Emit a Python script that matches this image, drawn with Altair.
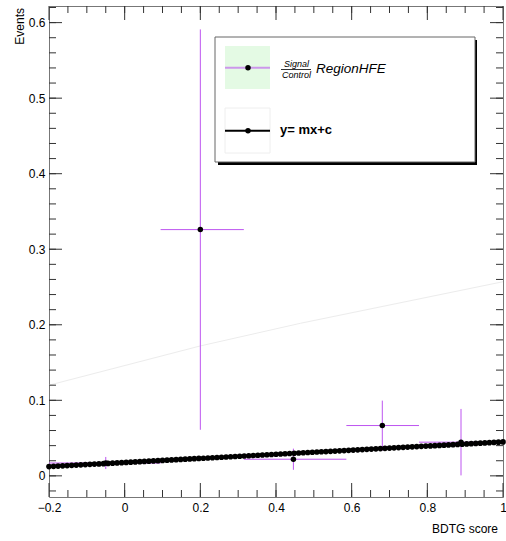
import altair as alt
import numpy as np
import pandas as pd

# Signal/Control ratio per BDTG bin
bin_center = [-0.05, 0.20, 0.446, 0.681, 0.889]
bin_low = [-0.20, 0.095, 0.315, 0.586, 0.778]
bin_high = [0.095, 0.315, 0.586, 0.778, 1.00]
ratio = [0.017, 0.326, 0.022, 0.0666, 0.0446]
ratio_err = [0.008, 0.265, 0.014, 0.033, 0.044]

# straight-line fit y = m*x + c
slope_m = 0.0272
intercept_c = 0.0177

# faint upper band of the fit
band_x = [-0.2, 0.2, 0.465, 1.0]
band_y = [0.120, 0.172, 0.202, 0.257]

x_ticks = [-0.2, 0.0, 0.2, 0.4, 0.6, 0.8, 1.0]
y_ticks = [0.0, 0.1, 0.2, 0.3, 0.4, 0.5, 0.6]

W, H = 454, 491
FONT = "Liberation Sans"
MAGENTA = "#bd55f0"

xs = alt.Scale(domain=[-0.2, 1.0], nice=False, zero=False)
ys = alt.Scale(domain=[-0.028, 0.622], nice=False, zero=False)

pts = pd.DataFrame({
    "x": bin_center, "xlo": bin_low, "xhi": bin_high, "y": ratio,
    "ylo": [r - e for r, e in zip(ratio, ratio_err)],
    "yhi": [r + e for r, e in zip(ratio, ratio_err)],
})
band = pd.DataFrame({"x": band_x, "y": band_y})
one = pd.DataFrame({"k": [0]})

X = alt.X("x:Q", scale=xs, axis=alt.Axis(values=x_ticks, format="~g", ticks=False, domain=False,
                                          grid=False, labelFontSize=12, labelFont=FONT,
                                          labelColor="#000", labelPadding=5, labelFlush=False,
                                          labelOverlap=False, title=None))
Y = alt.Y("y:Q", scale=ys, axis=alt.Axis(values=y_ticks, format="~g", ticks=False, domain=False,
                                          grid=False, labelFontSize=12, labelFont=FONT,
                                          labelColor="#000", labelPadding=4, labelFlush=False,
                                          labelOverlap=False, title=None))

band_line = alt.Chart(band).mark_line(color="#ececec", strokeWidth=1).encode(x=X, y=Y)

xerr = alt.Chart(pts).mark_rule(color=MAGENTA, strokeWidth=1).encode(
    x=alt.X("xlo:Q", scale=xs), x2="xhi:Q", y=alt.Y("y:Q", scale=ys))
yerr = alt.Chart(pts).mark_rule(color=MAGENTA, strokeWidth=1).encode(
    x=alt.X("x:Q", scale=xs), y=alt.Y("ylo:Q", scale=ys), y2="yhi:Q")
dots = alt.Chart(pts).mark_circle(color="black", size=30, opacity=1).encode(
    x=alt.X("x:Q", scale=xs), y=alt.Y("y:Q", scale=ys))

fit_base = alt.Chart(alt.sequence(-0.2, 1.0001, 0.012, as_="x")).transform_calculate(
    y=f"{slope_m} * datum.x + {intercept_c}")
fit_line = fit_base.mark_line(color="black", strokeWidth=2).encode(
    x=alt.X("x:Q", scale=xs), y=alt.Y("y:Q", scale=ys))
fit_dots = fit_base.mark_circle(color="black", size=32, opacity=1).encode(
    x=alt.X("x:Q", scale=xs), y=alt.Y("y:Q", scale=ys))

# inward-pointing ticks on all four sides of the frame
TICK = "#333"
ymaj = pd.DataFrame({"v": y_ticks})
ymin = pd.DataFrame({"v": [round(v, 3) for v in np.arange(-0.02, 0.621, 0.02)]})
xmaj = pd.DataFrame({"v": x_ticks})
xmin = pd.DataFrame({"v": [round(v, 3) for v in np.arange(-0.15, 1.0, 0.05)]})


def ytick(df, length):
    left = alt.Chart(df).mark_rule(color=TICK, strokeWidth=1).encode(
        y=alt.Y("v:Q", scale=ys), x=alt.value(0), x2=alt.value(length))
    right = alt.Chart(df).mark_rule(color=TICK, strokeWidth=1).encode(
        y=alt.Y("v:Q", scale=ys), x=alt.value(W - length), x2=alt.value(W))
    return left + right


def xtick(df, length):
    bottom = alt.Chart(df).mark_rule(color=TICK, strokeWidth=1).encode(
        x=alt.X("v:Q", scale=xs), y=alt.value(H - length), y2=alt.value(H))
    top = alt.Chart(df).mark_rule(color=TICK, strokeWidth=1).encode(
        x=alt.X("v:Q", scale=xs), y=alt.value(0), y2=alt.value(length))
    return bottom + top


ticks = ytick(ymaj, 13) + ytick(ymin, 7) + xtick(xmaj, 14) + xtick(xmin, 7)

# axis titles
x_title = alt.Chart(one).mark_text(text="BDTG score", font=FONT, fontSize=12, align="right",
                                   baseline="middle", color="#000").encode(
    x=alt.value(449), y=alt.value(523))
y_title = alt.Chart(one).mark_text(text="Events", font=FONT, fontSize=12, align="right",
                                   baseline="middle", angle=270, color="#000").encode(
    x=alt.value(-29), y=alt.value(2))


def box(x1, x2, y1, y2, **kw):
    return alt.Chart(one).mark_rect(**kw).encode(
        x=alt.value(x1), x2=alt.value(x2), y=alt.value(y1), y2=alt.value(y2))


def hline(x1, x2, y, color, width, opacity=1.0):
    return alt.Chart(one).mark_rule(color=color, strokeWidth=width, opacity=opacity).encode(
        x=alt.value(x1), x2=alt.value(x2), y=alt.value(y))


def label(txt, x, y, **kw):
    return alt.Chart(one).mark_text(text=txt, font=FONT, color="#000", baseline="middle", **kw).encode(
        x=alt.value(x), y=alt.value(y))


legend = (
    box(169, 428, 34, 159, color="black")
    + box(166, 426, 31, 156, fill="white", stroke="#666", strokeWidth=1)
    + box(176, 221, 40, 83, color="#e4fae4")
    + hline(176, 221, 61.7, MAGENTA, 2, 0.6)
    + alt.Chart(one).mark_circle(color="black", size=30, opacity=1).encode(
        x=alt.value(199), y=alt.value(61.7))
    + label("Signal", 247.5, 57.5, fontSize=9, fontStyle="italic", align="center")
    + hline(232, 262, 63.5, "#000", 0.8)
    + label("Control", 247.5, 68.5, fontSize=9, fontStyle="italic", align="center")
    + label("RegionHFE", 267, 62.5, fontSize=13.5, fontStyle="italic", align="left")
    + box(176, 221, 102, 147, fill="white", stroke="#eeeeee", strokeWidth=1)
    + hline(176, 221, 124.7, "black", 2)
    + alt.Chart(one).mark_circle(color="black", size=30, opacity=1).encode(
        x=alt.value(199), y=alt.value(124.7))
    + label("y= mx+c", 231, 124, fontSize=13, fontWeight="bold", align="left")
)

chart = alt.layer(
    band_line, xerr, yerr, dots, fit_line, fit_dots, ticks, x_title, y_title, legend
).properties(
    width=W, height=H,
    autosize=alt.AutoSizeParams(type="none"),
    padding={"left": 49, "top": 6, "right": 3, "bottom": 44},
    background="white",
).configure_view(stroke="#777", strokeWidth=1)

chart.save("out.html", embed_options={"renderer": "svg", "actions": False})
